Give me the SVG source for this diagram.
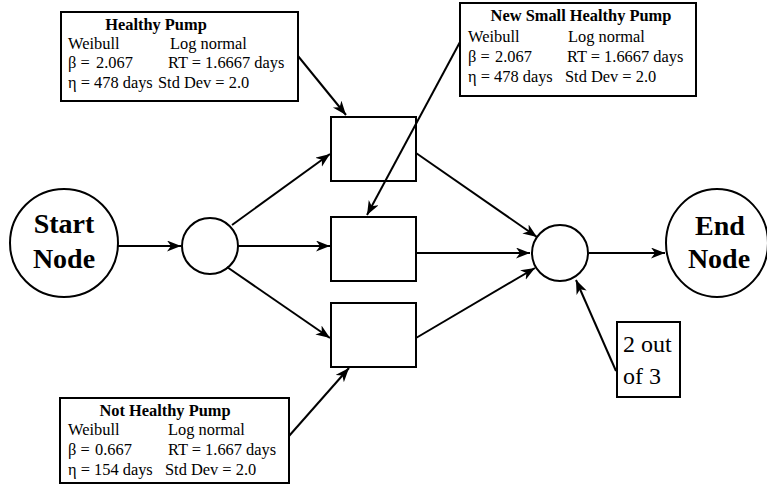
<svg xmlns="http://www.w3.org/2000/svg" width="767" height="489" viewBox="0 0 767 489">
<style>
.sh{fill:#fff;stroke:#000;stroke-width:2}
.ln{fill:none;stroke:#000;stroke-width:2}
.t{font-family:"Liberation Serif","Times New Roman",serif;font-size:16.4px;fill:#000}
.b{font-weight:bold}
.big{font-family:"Liberation Serif","Times New Roman",serif;font-size:28px;font-weight:bold;fill:#000;text-anchor:middle}
.lab{font-family:"Liberation Serif","Times New Roman",serif;font-size:24px;fill:#000}
</style>
<defs>
<marker id="ah" markerUnits="userSpaceOnUse" markerWidth="16" markerHeight="12" refX="14" refY="5.5" orient="auto">
<path d="M0,0 L14,5.5 L0,11 L4,5.5 z" fill="#000"/>
</marker>
</defs>
<g id="start">
<ellipse class="sh" cx="64" cy="243" rx="54" ry="54"/>
<text class="big" x="64" y="233">Start</text>
<text class="big" x="64" y="268">Node</text>
</g>
<g id="split">
<circle class="sh" cx="210" cy="246" r="28"/>
</g>
<g id="box1"><rect class="sh" x="331" y="117" width="85" height="64"/></g>
<g id="box2"><rect class="sh" x="331" y="217" width="85" height="64"/></g>
<g id="box3"><rect class="sh" x="331" y="303" width="85" height="64"/></g>
<g id="join">
<circle class="sh" cx="560" cy="253" r="28"/>
</g>
<g id="end">
<ellipse class="sh" cx="717" cy="243" rx="51" ry="54"/>
<text class="big" x="720" y="235">End</text>
<text class="big" x="719" y="268">Node</text>
</g>
<g id="healthy">
<rect class="sh" x="61" y="12" width="237" height="89"/>
<text class="t b" x="156" y="30" text-anchor="middle">Healthy Pump</text>
<text class="t" x="68" y="49">Weibull</text>
<text class="t" x="170" y="49">Log normal</text>
<text class="t" x="68" y="68">β =</text>
<text class="t" x="96" y="68">2.067</text>
<text class="t" x="168" y="68">RT = 1.6667 days</text>
<text class="t" x="68" y="88">η = 478 days</text>
<text class="t" x="158" y="88">Std Dev = 2.0</text>
</g>
<g id="newsmall">
<rect class="sh" x="460" y="3" width="236" height="93"/>
<text class="t b" x="581" y="21" text-anchor="middle">New Small Healthy Pump</text>
<text class="t" x="468" y="42">Weibull</text>
<text class="t" x="568" y="42">Log normal</text>
<text class="t" x="468" y="62">β =</text>
<text class="t" x="495" y="62">2.067</text>
<text class="t" x="567" y="62">RT = 1.6667 days</text>
<text class="t" x="468" y="82">η = 478 days</text>
<text class="t" x="565" y="82">Std Dev = 2.0</text>
</g>
<g id="nothealthy">
<rect class="sh" x="60" y="398" width="229" height="85"/>
<text class="t b" x="165" y="416" text-anchor="middle">Not Healthy Pump</text>
<text class="t" x="68" y="435">Weibull</text>
<text class="t" x="168" y="435">Log normal</text>
<text class="t" x="68" y="455">β =</text>
<text class="t" x="95" y="455">0.667</text>
<text class="t" x="168" y="455">RT = 1.667 days</text>
<text class="t" x="68" y="475">η = 154 days</text>
<text class="t" x="165" y="475">Std Dev = 2.0</text>
</g>
<g id="rule">
<rect class="sh" x="617" y="322" width="63" height="75"/>
<text class="lab" x="623" y="352">2 out</text>
<text class="lab" x="623" y="384">of 3</text>
</g>
<g id="connectors">
<line class="ln" x1="118" y1="246" x2="181" y2="246" marker-end="url(#ah)"/>
<line class="ln" x1="232" y1="225" x2="330" y2="154" marker-end="url(#ah)"/>
<line class="ln" x1="238" y1="246" x2="330" y2="246" marker-end="url(#ah)"/>
<line class="ln" x1="227" y1="267" x2="330" y2="338" marker-end="url(#ah)"/>
<line class="ln" x1="298" y1="56" x2="346" y2="115" marker-end="url(#ah)"/>
<line class="ln" x1="460" y1="42" x2="367" y2="215" marker-end="url(#ah)"/>
<line class="ln" x1="289" y1="436" x2="349" y2="368" marker-end="url(#ah)"/>
<line class="ln" x1="416" y1="153" x2="537" y2="237" marker-end="url(#ah)"/>
<line class="ln" x1="416" y1="253" x2="530" y2="253" marker-end="url(#ah)"/>
<line class="ln" x1="416" y1="338" x2="535" y2="268" marker-end="url(#ah)"/>
<line class="ln" x1="589" y1="253" x2="665" y2="253" marker-end="url(#ah)"/>
<line class="ln" x1="616" y1="371" x2="576" y2="280" marker-end="url(#ah)"/>
</g>
</svg>
